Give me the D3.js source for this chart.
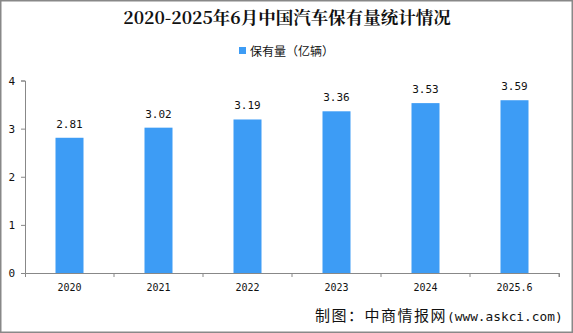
<!DOCTYPE html>
<html><head><meta charset="utf-8">
<script src="https://cdn.jsdelivr.net/npm/d3@7"></script>
<style>body{margin:0;background:#fff}svg{display:block}</style>
</head><body>
<svg id="c" width="573" height="333"></svg>
<script>
const categories = ["2020","2021","2022","2023","2024","2025.6"];
const values = [2.81,3.02,3.19,3.36,3.53,3.59];
const yTicks = [0,1,2,3,4];
const title = "2020-2025年6月中国汽车保有量统计情况";
const seriesName = "保有量（亿辆）";
const sourceCn = "制图：中商情报网";
const sourceEn = "(www.askci.com)";

const svg = d3.select("#c");
const W = 573, H = 333;
svg.append("rect").attr("x",0.75).attr("y",0.75).attr("width",W-1.5).attr("height",H-1.5)
  .attr("fill","#fff").attr("stroke","#888").attr("stroke-width",1.5);

const x = d3.scaleBand().domain(categories).range([25,559]);
const y = d3.scaleLinear().domain([0,4]).range([273,80.5]);
const font = "'Noto Sans CJK SC', 'DejaVu Sans', sans-serif";
const mono = "'DejaVu Sans Mono',monospace";

svg.append("text").attr("x",287).attr("y",24).attr("text-anchor","middle")
  .attr("font-family","'Noto Serif CJK SC','DejaVu Serif',serif").attr("font-weight","bold")
  .attr("font-size",17.5).attr("fill","#111").text(title);

svg.append("rect").attr("x",239).attr("y",47).attr("width",7).attr("height",7).attr("fill","#3d9cf5");
svg.append("text").attr("x",250).attr("y",55.5).attr("font-family",font).attr("font-size",12)
  .attr("fill","#111").text(seriesName);

const yAxis = d3.axisLeft(y).tickValues(yTicks).tickSize(4).tickFormat(d3.format("d"));
const gy = svg.append("g").attr("transform","translate(25,0)").call(yAxis);
gy.selectAll("path,line").attr("stroke","#888");
gy.selectAll("text").attr("font-family",mono).attr("font-size",11).attr("fill","#111").attr("x",-10);

const xAxis = d3.axisBottom(x).tickSize(4).tickSizeOuter(4);
const gx = svg.append("g").attr("transform","translate(0,273)").call(xAxis);
gx.select(".domain").attr("stroke","#888");
gx.selectAll(".tick line").attr("stroke","#888").attr("x1",x.bandwidth()/2).attr("x2",x.bandwidth()/2);
gx.selectAll("text").attr("font-family",mono).attr("font-size",10).attr("fill","#111").attr("dy","1.1em");

const bw = 28;
svg.selectAll(".bar").data(values).join("rect").attr("class","bar")
  .attr("x",(d,i)=>x(categories[i])+x.bandwidth()/2-bw/2)
  .attr("y",d=>y(d)).attr("width",bw).attr("height",d=>y(0)-y(d)).attr("fill","#3d9cf5");

svg.selectAll(".lbl").data(values).join("text").attr("class","lbl")
  .attr("x",(d,i)=>x(categories[i])+x.bandwidth()/2).attr("y",d=>y(d)-10)
  .attr("text-anchor","middle").attr("font-family",mono).attr("font-size",11)
  .attr("fill","#111").text(d=>d.toFixed(2));

const src = svg.append("text").attr("x",315).attr("y",321).attr("fill","#111");
src.append("tspan").attr("font-family",font).attr("font-size",15).attr("letter-spacing",1.5).text(sourceCn);
src.append("tspan").attr("font-family",mono).attr("font-size",12.8).text(sourceEn);
</script>
</body></html>
